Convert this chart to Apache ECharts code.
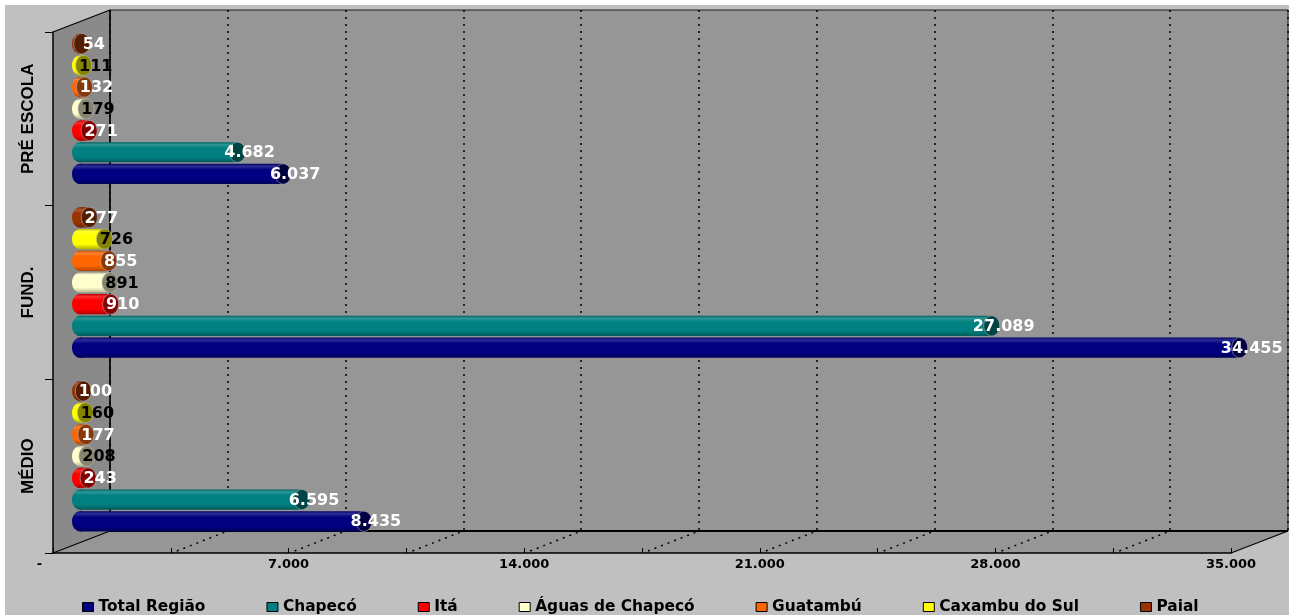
<!DOCTYPE html>
<html>
<head>
<meta charset="utf-8">
<script src="https://cdn.jsdelivr.net/npm/echarts@6/dist/echarts.min.js"></script>
<style>
  html, body { margin: 0; padding: 0; background: #ffffff; }
  #chart { width: 1289px; height: 615px; }
</style>
</head>
<body>
<div id="chart"></div>
<script>
// Matrículas por nível de ensino (categories listed bottom to top)
const categories = ['MÉDIO', 'FUND.', 'PRÉ ESCOLA'];
const seriesNames = ['Total Região', 'Chapecó', 'Itá', 'Águas de Chapecó', 'Guatambú', 'Caxambu do Sul', 'Paial'];
const totalRegiao    = [8435, 34455, 6037];
const chapeco        = [6595, 27089, 4682];
const ita            = [243, 910, 271];
const aguasDeChapeco = [208, 891, 179];
const guatambu       = [177, 855, 132];
const caxambuDoSul   = [160, 726, 111];
const paial          = [100, 277, 54];
const xMax = 35000;
const xLabelStep = 7000;
const xTickLabels = ['-', '7.000', '14.000', '21.000', '28.000', '35.000'];

const seriesValues = [totalRegiao, chapeco, ita, aguasDeChapeco, guatambu, caxambuDoSul, paial];

// cylinder colours: body, end cap, value label
const bodyColors  = ['#000080', '#008080', '#ff0000', '#ffffcc', '#ff6600', '#ffff00', '#993300'];
const capColors   = ['#000042', '#004444', '#850000', '#86866e', '#86380a', '#858500', '#561c00'];
const labelColors = ['#ffffff', '#ffffff', '#ffffff', '#000000', '#ffffff', '#000000', '#ffffff'];

// 3D frame geometry
const FRONT = { left: 53, top: 32, right: 1231, bottom: 553 };
const DEPTH = { dx: 57, dy: -22 };
const BARS  = { left: 80, top: 22, width: 1178, height: 521 };

function fmtThousands(v) {
  return String(v).replace(/\B(?=(\d{3})+(?!\d))/g, '.');
}

function shade(hex, f) {
  const n = parseInt(hex.slice(1), 16);
  let r = (n >> 16) & 255, g = (n >> 8) & 255, b = n & 255;
  const mix = c => f >= 0 ? Math.round(c + (255 - c) * f) : Math.round(c * (1 + f));
  return 'rgb(' + mix(r) + ',' + mix(g) + ',' + mix(b) + ')';
}

function cylinderRenderer(sIdx) {
  const base = bodyColors[sIdx];
  return function (params, api) {
    const val = api.value(0);
    const cat = api.value(1);
    const p0 = api.coord([0, cat]);
    const p1 = api.coord([val, cat]);
    const band = api.size([0, 1])[1];
    const slot = band / 8;
    const cy = p0[1] + band / 2 - slot * (sIdx + 1);
    const h = slot * 0.93;
    const ry = h / 2;
    const rx = 8;
    const grad = new echarts.graphic.LinearGradient(0, 0, 0, 1, [
      { offset: 0, color: shade(base, -0.25) },
      { offset: 0.12, color: shade(base, 0.18) },
      { offset: 0.3, color: base },
      { offset: 0.75, color: base },
      { offset: 1, color: shade(base, -0.3) }
    ]);
    return {
      type: 'group',
      children: [
        { type: 'ellipse', shape: { cx: p0[0], cy: cy, rx: rx, ry: ry }, style: { fill: grad } },
        { type: 'rect', shape: { x: p0[0], y: cy - ry, width: Math.max(0, p1[0] - p0[0]), height: h }, style: { fill: grad } },
        { type: 'ellipse', shape: { cx: p1[0], cy: cy, rx: rx, ry: ry },
          style: { fill: capColors[sIdx], stroke: 'rgba(190,190,190,0.55)', lineWidth: 1 } },
        { type: 'text', x: p1[0] + 12, y: cy + 1, z2: 10,
          style: { text: fmtThousands(val), fill: labelColors[sIdx], font: 'bold 16px "DejaVu Sans"',
                   align: 'center', verticalAlign: 'middle' } }
      ]
    };
  };
}

const chart = echarts.init(document.getElementById('chart'), null, { renderer: 'canvas' });

const series = seriesNames.map((name, i) => ({
  name: name,
  type: 'custom',
  xAxisIndex: 2,
  yAxisIndex: 2,
  z: 5,
  itemStyle: { color: bodyColors[i] },
  renderItem: cylinderRenderer(i),
  encode: { x: 0, y: 1 },
  data: seriesValues[i].map((v, c) => [v, c])
}));

const option = {
  backgroundColor: 'transparent',
  animation: false,
  grid: [
    { // front edge: value axis and category labels
      left: FRONT.left, top: FRONT.top,
      width: FRONT.right - FRONT.left, height: FRONT.bottom - FRONT.top,
      containLabel: false, outerBoundsMode: 'none', z: 3
    },
    { // back wall
      left: FRONT.left + DEPTH.dx, top: FRONT.top + DEPTH.dy,
      width: FRONT.right - FRONT.left, height: FRONT.bottom - FRONT.top,
      containLabel: false, outerBoundsMode: 'none',
      show: true, backgroundColor: '#969696', borderColor: '#1c1c1c', borderWidth: 1, z: 1
    },
    { // cylinders
      left: BARS.left, top: BARS.top, width: BARS.width, height: BARS.height,
      containLabel: false, outerBoundsMode: 'none'
    }
  ],
  xAxis: [
    {
      gridIndex: 0, type: 'value', min: 0, max: xMax, interval: xLabelStep / 2, z: 4,
      axisLine: { show: true, lineStyle: { color: '#000', width: 1.5 } },
      axisTick: { show: true, inside: true, length: 5, lineStyle: { color: '#000', width: 1 } },
      splitLine: { show: false },
      axisLabel: {
        margin: 5, color: '#000', fontFamily: 'DejaVu Sans', fontWeight: 'bold', fontSize: 13,
        formatter: v => (v % xLabelStep === 0 ? (v === 0 ? xTickLabels[0] + '      ' : xTickLabels[v / xLabelStep]) : '')
      }
    },
    {
      gridIndex: 1, type: 'value', min: 0, max: xMax, interval: xLabelStep / 2, z: 2,
      axisLine: { show: false }, axisTick: { show: false }, axisLabel: { show: false },
      splitLine: { show: true, lineStyle: { color: '#000', width: 1.5, type: [2, 5] } }
    },
    {
      gridIndex: 2, type: 'value', min: 0, max: xMax, show: false
    }
  ],
  yAxis: [
    {
      gridIndex: 0, type: 'category', data: categories, z: 4,
      axisLine: { show: true, lineStyle: { color: '#000', width: 1.5 } },
      axisTick: { show: true, length: 8, lineStyle: { color: '#000' } },
      axisLabel: {
        rotate: 90, margin: 16, color: '#000',
        fontFamily: 'Liberation Sans', fontWeight: 'bold', fontSize: 17
      }
    },
    {
      gridIndex: 1, type: 'value', show: false
    },
    {
      gridIndex: 2, type: 'category', data: categories, show: false
    }
  ],
  legend: {
    data: seriesNames,
    left: 82, top: 599, padding: 0,
    itemWidth: 11, itemHeight: 9, itemGap: 61,
    icon: 'rect',
    itemStyle: { borderColor: '#000', borderWidth: 1 },
    textStyle: { color: '#000', fontFamily: 'DejaVu Sans', fontWeight: 'bold', fontSize: 15.4, lineHeight: 16 },
    selectedMode: false
  },
  series: series
};

chart.setOption(option);

// walls, floor and depth lines, derived from the front and back axes
const fx = v => chart.convertToPixel({ xAxisIndex: 0 }, v);
const bx = v => chart.convertToPixel({ xAxisIndex: 1 }, v);
const fTop = FRONT.top, fBot = FRONT.bottom;
const bTop = FRONT.top + DEPTH.dy, bBot = FRONT.bottom + DEPTH.dy;

const graphics = [
  { type: 'rect', z: -10, shape: { x: 5, y: 5, width: 1289, height: 615 }, style: { fill: '#c0c0c0' } },
  { type: 'polygon', z: 0,
    shape: { points: [[fx(0), fTop], [bx(0), bTop], [bx(0), bBot], [fx(0), fBot]] },
    style: { fill: '#8a8a8a' } },
  { type: 'polygon', z: 0,
    shape: { points: [[fx(0), fBot], [bx(0), bBot], [bx(xMax), bBot], [fx(xMax), fBot]] },
    style: { fill: '#969696' } },
  { type: 'line', z: 2, shape: { x1: fx(0), y1: fTop, x2: bx(0), y2: bTop }, style: { stroke: '#000', lineWidth: 1.2 } },
  { type: 'line', z: 2, shape: { x1: fx(0), y1: fBot, x2: bx(0), y2: bBot }, style: { stroke: '#000', lineWidth: 1.2 } },
  { type: 'line', z: 2, shape: { x1: fx(xMax), y1: fBot, x2: bx(xMax), y2: bBot }, style: { stroke: '#000', lineWidth: 1.2 } },
  { type: 'line', z: 2, shape: { x1: bx(0), y1: bTop, x2: bx(0), y2: bBot }, style: { stroke: '#000', lineWidth: 1.5 } },
  { type: 'line', z: 2, shape: { x1: bx(0), y1: bBot, x2: bx(xMax), y2: bBot }, style: { stroke: '#000', lineWidth: 2 } }
];
for (let v = xLabelStep / 2; v < xMax; v += xLabelStep / 2) {
  graphics.push({
    type: 'line', z: 2,
    shape: { x1: fx(v) + 6, y1: fBot - 2, x2: bx(v), y2: bBot },
    style: { stroke: '#000', lineWidth: 1.5, lineDash: [2, 5] }
  });
}
chart.setOption({ graphic: { elements: graphics } });
</script>
</body>
</html>
